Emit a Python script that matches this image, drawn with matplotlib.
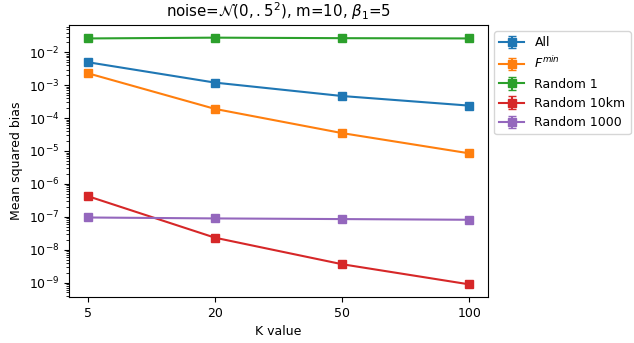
import numpy as np
import matplotlib
matplotlib.use("Agg")
import matplotlib.pyplot as plt

plt.rcParams["font.size"] = 9

k_values = ["5", "20", "50", "100"]

all_bias = [5.0e-3, 1.2e-3, 4.7e-4, 2.4e-4]
fmin_bias = [2.3e-3, 1.9e-4, 3.5e-5, 8.5e-6]
random1_bias = [2.65e-2, 2.8e-2, 2.7e-2, 2.65e-2]
random10km_bias = [4.2e-7, 2.3e-8, 3.6e-9, 8.8e-10]
random1000_bias = [9.5e-8, 8.9e-8, 8.5e-8, 8.1e-8]

# standard errors (very small relative to the means)
all_err = [1e-4, 3e-5, 1e-5, 5e-6]
fmin_err = [5e-5, 5e-6, 1e-6, 2e-7]
random1_err = [5e-4, 5e-4, 5e-4, 5e-4]
random10km_err = [1e-8, 5e-10, 1e-10, 2e-11]
random1000_err = [2e-9, 2e-9, 2e-9, 2e-9]

series = [
    ("All", all_bias, all_err),
    ("$F^{min}$", fmin_bias, fmin_err),
    ("Random 1", random1_bias, random1_err),
    ("Random 10km", random10km_bias, random10km_err),
    ("Random 1000", random1000_bias, random1000_err),
]

fig = plt.figure(figsize=(6.34, 3.43), dpi=100)
ax = fig.add_axes([0.109, 0.134, 0.661, 0.793])

x = np.arange(len(k_values))
for label, vals, err in series:
    ax.errorbar(x, vals, yerr=err, marker="s", markersize=6, capsize=3, label=label)

ax.set_yscale("log")
ax.set_xticks(x)
ax.set_xticklabels(k_values)
ax.set_xlabel("K value")
ax.set_ylabel("Mean squared bias")
ax.set_title(r"noise=$\mathcal{N}(0, .5^2)$, m=10, $\beta_1$=5")
ax.legend(loc="upper left", bbox_to_anchor=(1.0, 1.0))

fig.savefig("out.png", dpi=100)
